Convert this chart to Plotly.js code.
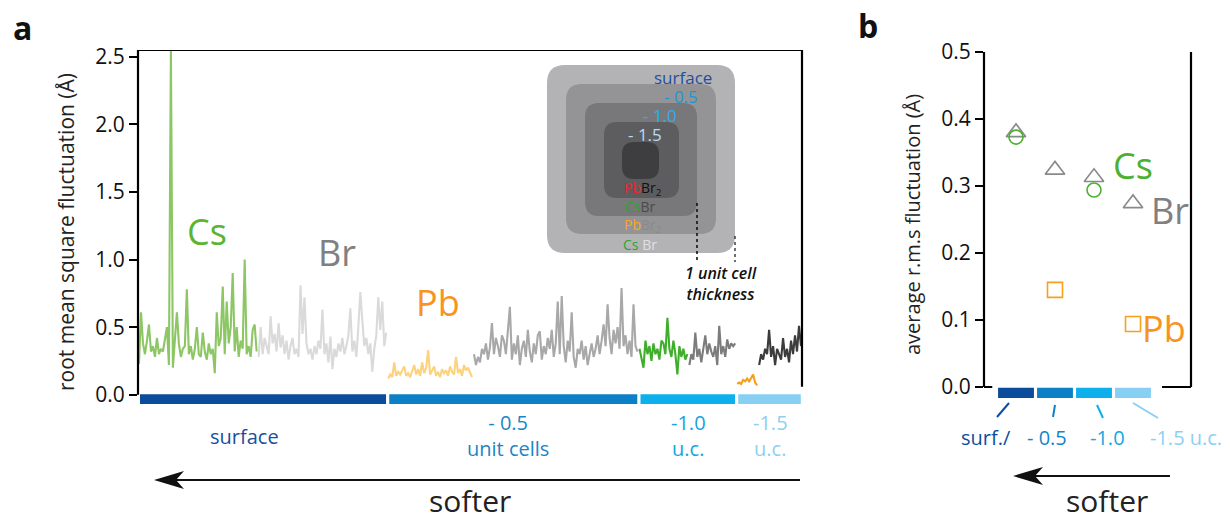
<!DOCTYPE html>
<html>
<head>
<meta charset="utf-8">
<script src="https://cdn.plot.ly/plotly-3.0.1.min.js"></script>
<style>html,body{margin:0;padding:0;background:#fff;}#chart{width:1230px;height:520px;}</style>
</head>
<body>
<div id="chart"></div>
<script>
// ---------------- DATA ----------------
// panel a: r.m.s. fluctuation per atom, grouped by layer (surface -> -1.5 unit cells)
const csSurface = [0.23,0.61,0.38,0.30,0.40,0.52,0.32,0.36,0.28,0.42,0.30,0.34,0.32,0.40,0.50,0.22,2.55,0.20,0.45,0.61,
  0.38,0.28,0.34,0.36,0.78,0.30,0.36,0.26,0.34,0.50,0.30,0.28,0.46,0.32,0.26,0.38,0.30,0.34,0.16,0.61,
  0.36,0.42,0.80,0.30,0.69,0.38,0.50,0.90,0.32,0.50,0.28,0.40,0.34,1.00,0.30,0.36,0.28,0.48,0.52,0.32];
const brSurface = [0.28,0.50,0.30,0.42,0.36,0.30,0.58,0.38,0.45,0.32,0.53,0.35,0.44,0.30,0.40,0.26,0.36,0.42,0.30,0.34,
  0.28,0.81,0.45,0.72,0.38,0.30,0.34,0.26,0.36,0.30,0.40,0.34,0.63,0.30,0.38,0.24,0.43,0.19,0.34,0.28,
  0.38,0.32,0.42,0.30,0.36,0.44,0.64,0.32,0.40,0.28,0.50,0.76,0.55,0.36,0.42,0.30,0.38,0.17,0.34,0.44,
  0.72,0.48,0.69,0.36,0.46];
const pbHalf = [0.12,0.15,0.13,0.24,0.14,0.17,0.15,0.18,0.21,0.14,0.16,0.13,0.17,0.22,0.15,0.19,0.14,0.24,0.16,0.20,
  0.33,0.15,0.18,0.21,0.14,0.17,0.13,0.19,0.16,0.18,0.14,0.21,0.17,0.15,0.28,0.16,0.19,0.14,0.22,0.18,
  0.20,0.16,0.13];
const brHalf = [0.30,0.22,0.28,0.24,0.34,0.30,0.38,0.26,0.35,0.53,0.30,0.42,0.36,0.28,0.44,0.40,0.30,0.46,0.65,0.26,
  0.38,0.30,0.44,0.22,0.34,0.40,0.28,0.48,0.32,0.24,0.38,0.30,0.44,0.47,0.26,0.36,0.30,0.42,0.34,0.48,
  0.28,0.38,0.69,0.30,0.73,0.36,0.24,0.40,0.32,0.61,0.28,0.20,0.34,0.30,0.40,0.26,0.36,0.22,0.30,0.38,
  0.28,0.34,0.44,0.30,0.40,0.52,0.36,0.67,0.42,0.30,0.48,0.38,0.50,0.34,0.79,0.36,0.44,0.30,0.40,0.28,
  0.67,0.36,0.32];
const csOne = [0.34,0.28,0.20,0.40,0.30,0.36,0.25,0.38,0.30,0.34,0.26,0.40,0.38,0.30,0.57,0.34,0.28,0.40,0.30,0.15,
  0.36,0.28,0.34,0.26,0.30];
const brOne = [0.22,0.30,0.26,0.46,0.28,0.34,0.24,0.36,0.44,0.30,0.38,0.32,0.28,0.36,0.22,0.51,0.30,0.36,0.28,0.41,
  0.34,0.38,0.36,0.38];
const pbOneHalf = [0.08,0.09,0.08,0.11,0.10,0.12,0.10,0.13,0.15,0.09,0.07];
const brOneHalf = [0.22,0.30,0.26,0.34,0.30,0.48,0.28,0.36,0.22,0.34,0.30,0.26,0.42,0.28,0.34,0.24,0.40,0.30,0.44,0.32,
  0.51,0.36];

// panel b: averages per layer
const layersB = ['surf.', '-0.5', '-1.0', '-1.5'];
const brAvg = [0.380, 0.324, 0.313, 0.274];
const csAvg = [0.373, null, 0.294, null];
const pbAvg = [null, 0.145, null, 0.094];

// ---------------- STYLE / LAYOUT ----------------
const W = 1230, H = 520;
const FONT = 'Open Sans, sans-serif';
const P = x => x / W, Q = y => 1 - y / H;

const segments = [
  {y: csSurface, color: '#8cc665', layer: 0},
  {y: brSurface, color: '#dadada', layer: 0},
  {y: pbHalf, color: '#fdd27d', layer: 1},
  {y: brHalf, color: '#a8a8a8', layer: 1},
  {y: csOne, color: '#3fae2a', layer: 2},
  {y: brOne, color: '#7c7c7c', layer: 2},
  {y: pbOneHalf, color: '#f6a01a', layer: 3},
  {y: brOneHalf, color: '#3c3c3c', layer: 3}
];
const layerColors = ['#0b4c9b', '#0b80c6', '#0db0ea', '#88d0f3'];

const traces = [];
let idx = 0;
const layerSpan = [[Infinity, -Infinity], [Infinity, -Infinity], [Infinity, -Infinity], [Infinity, -Infinity]];
segments.forEach(s => {
  const xs = s.y.map((_, i) => idx + i);
  layerSpan[s.layer][0] = Math.min(layerSpan[s.layer][0], idx);
  layerSpan[s.layer][1] = Math.max(layerSpan[s.layer][1], idx + s.y.length - 1);
  traces.push({x: xs, y: s.y, type: 'scatter', mode: 'lines', xaxis: 'x', yaxis: 'y',
    line: {color: s.color, width: 2.1}, hoverinfo: 'skip', showlegend: false});
  idx += s.y.length;
});
const nTotal = idx;

traces.push({x: layersB, y: brAvg, type: 'scatter', mode: 'markers', xaxis: 'x2', yaxis: 'y2',
  marker: {symbol: 'triangle-up-open', size: 17, color: '#8a8a8a', line: {width: 1.6}}, showlegend: false});
traces.push({x: layersB, y: csAvg, type: 'scatter', mode: 'markers', xaxis: 'x2', yaxis: 'y2',
  marker: {symbol: 'circle-open', size: 14, color: '#4cb030', line: {width: 1.6}}, showlegend: false});
traces.push({x: layersB, y: pbAvg, type: 'scatter', mode: 'markers', xaxis: 'x2', yaxis: 'y2',
  marker: {symbol: 'square-open', size: 15, color: '#f7a11a', line: {width: 1.6}}, showlegend: false});

const shapes = [];
// panel a frame
const blk = {color: '#000', width: 2.2};
shapes.push({type: 'line', xref: 'x domain', yref: 'y', x0: 0, x1: 0, y0: 0, y1: 2.55, line: blk});
shapes.push({type: 'line', xref: 'x domain', yref: 'y', x0: 0, x1: 1, y0: 2.55, y1: 2.55, line: blk});
shapes.push({type: 'line', xref: 'x domain', yref: 'y', x0: 1, x1: 1, y0: 0.06, y1: 2.55, line: blk});
// panel a layer bars
layerSpan.forEach((sp, i) => {
  shapes.push({type: 'rect', xref: 'x', yref: 'y', x0: sp[0] - 0.5 + 1, x1: sp[1] + 0.5 - 0.6,
    y0: -0.068, y1: 0.004, fillcolor: layerColors[i], line: {width: 0}});
});
// panel b frame
shapes.push({type: 'line', xref: 'x2 domain', yref: 'y2', x0: 0, x1: 0, y0: 0, y1: 0.5, line: blk});
shapes.push({type: 'line', xref: 'x2 domain', yref: 'y2', x0: 1, x1: 1, y0: 0, y1: 0.5, line: blk});
shapes.push({type: 'line', xref: 'x2 domain', yref: 'y2', x0: 0.86, x1: 1, y0: 0, y1: 0, line: blk});
shapes.push({type: 'line', xref: 'x2 domain', yref: 'y2', x0: 0, x1: 0.04, y0: 0, y1: 0, line: blk});
// panel b layer bars
layersB.forEach((c, i) => {
  shapes.push({type: 'rect', xref: 'x2', yref: 'y2', x0: i - 0.46, x1: i + 0.46,
    y0: -0.0165, y1: -0.0012, fillcolor: layerColors[i], line: {width: 0}});
});
// panel b connector ticks
const connectors = [[1009,403,997,417],[1055,405,1053,417],[1097,405,1103,418],[1133,403,1158,418]];
connectors.forEach((c, i) => {
  shapes.push({type: 'line', xref: 'paper', yref: 'paper', x0: P(c[0]), y0: Q(c[1]), x1: P(c[2]), y1: Q(c[3]),
    line: {color: layerColors[i], width: 2}});
});
// paths in pixel coords -> paper
function pathPx(cmds) {
  return cmds.map(p => {
    const c = p[0]; const v = p.slice(1);
    const out = [];
    for (let k = 0; k < v.length; k += 2) out.push(P(v[k]).toFixed(5) + ',' + Q(v[k + 1]).toFixed(5));
    return c + out.join(' ');
  }).join(' ') + ' Z';
}
function rr(x0, y0, x1, y1, r) {
  return pathPx([
    ['M', x0 + r, y0], ['L', x1 - r, y0], ['Q', x1, y0, x1, y0 + r], ['L', x1, y1 - r],
    ['Q', x1, y1, x1 - r, y1], ['L', x0 + r, y1], ['Q', x0, y1, x0, y1 - r], ['L', x0, y0 + r],
    ['Q', x0, y0, x0 + r, y0]]);
}
// "softer" arrows (line + stealth head)
function arrow(xTail, xHead, y) {
  shapes.push({type: 'line', xref: 'paper', yref: 'paper', x0: P(xTail), x1: P(xHead + 18), y0: Q(y), y1: Q(y),
    line: {color: '#111', width: 2.2}});
  shapes.push({type: 'path', xref: 'paper', yref: 'paper', fillcolor: '#111', line: {width: 0},
    path: pathPx([['M', xHead, y], ['L', xHead + 30, y - 9], ['L', xHead + 22, y], ['L', xHead + 30, y + 9]])});
}
arrow(800, 154, 480);
arrow(1170, 1013, 476);

const insetBoxes = [
  [547, 65, 735, 253, 18, '#b3b3b5'],
  [566, 84, 716, 234, 16, '#949496'],
  [585, 103, 697, 216, 14, '#78787a'],
  [604, 122, 679, 198, 13, '#5d5d5f'],
  [622, 142, 659, 179, 12, '#3e3e40']
];
insetBoxes.forEach(b => {
  shapes.push({type: 'path', xref: 'paper', yref: 'paper', path: rr(b[0], b[1], b[2], b[3], b[4]),
    fillcolor: b[5], line: {width: 0}, layer: 'above'});
});
shapes.push({type: 'line', xref: 'paper', yref: 'paper', x0: P(697), x1: P(697), y0: Q(203), y1: Q(262),
  line: {color: '#111', width: 1.6, dash: '3px,3px'}});
shapes.push({type: 'line', xref: 'paper', yref: 'paper', x0: P(735), x1: P(735), y0: Q(236), y1: Q(262),
  line: {color: '#111', width: 1.2, dash: '3px,3px'}});

function ann(text, x, y, size, color, extra) {
  return Object.assign({text: text, x: P(x), y: Q(y), xref: 'paper', yref: 'paper', showarrow: false,
    xanchor: 'center', yanchor: 'middle', borderpad: 0, font: {family: FONT, size: size, color: color}}, extra || {});
}
const annotations = [
  ann('<b>a</b>', 22, 27, 32, '#111'),
  ann('<b>b</b>', 868, 25, 32, '#111'),
  ann('root mean square fluctuation (Å)', 66, 232, 21, '#222', {textangle: -90}),
  ann('average r.m.s fluctuation (Å)', 912, 225, 20, '#222', {textangle: -90}),
  ann('Cs', 207, 231, 36, '#5cb531'),
  ann('Br', 337, 252, 36, '#808080'),
  ann('Pb', 438, 302, 36, '#f7941d'),
  ann('Cs', 1133, 165, 36, '#4cb030'),
  ann('Br', 1170, 210, 36, '#808080'),
  ann('Pb', 1164, 328, 36, '#f7941d'),
  // inset text
  ann('surface', 683, 77, 17, '#1f4e9c'),
  ann('- 0.5', 681, 96, 17, '#1b96d6'),
  ann('- 1.0', 660, 115, 17, '#2aaee8'),
  ann('- 1.5', 645, 134, 17, '#b5def5'),
  ann('<span style="color:#e8262a">Pb</span><span style="color:#111">Br<sub>2</sub></span>', 643, 188, 14, '#111'),
  ann('<span style="color:#2aa532">Cs</span><span style="color:#4a4a4a">Br</span>', 640, 207, 14, '#111'),
  ann('<span style="color:#f8a81c">Pb</span><span style="color:#8a8a8a">Br<sub>2</sub></span>', 643, 225, 14, '#111'),
  ann('<span style="color:#2aa532">Cs</span><span style="color:#e0e0e0"> Br</span>', 640, 244, 14, '#111'),
  ann('<i>1 unit cell</i><br><i>thickness</i>', 721, 283, 16, '#111', {font: {family: FONT, size: 16, color: '#111', weight: 600}}),
  // layer labels a
  ann('surface', 244, 436, 20, '#1a4f9c'),
  ann('- 0.5<br>unit cells', 508, 435, 20, '#1a86c8'),
  ann('-1.0<br>u.c.', 688, 435, 20, '#13a5e0'),
  ann('-1.5<br>u.c.', 770, 435, 20, '#8fcff0'),
  // layer labels b
  ann('surf./', 986, 437, 20, '#0d4f9e'),
  ann('- 0.5', 1047, 437, 20, '#1585c7'),
  ann('-1.0', 1107, 437, 20, '#14a8e0'),
  ann('-1.5 u.c.', 1186, 437, 20, '#8dd0f2'),
  // softer
  ann('softer', 470, 500, 30, '#222'),
  ann('softer', 1107, 500, 30, '#222')
];

const yTicksA = [0, 0.5, 1.0, 1.5, 2.0, 2.5];
const yTicksB = [0, 0.1, 0.2, 0.3, 0.4, 0.5];
const axisY = (domain, range, vals) => ({domain: domain, range: range, tickvals: vals, tickformat: '.1f',
  ticks: 'outside', ticklen: 8, tickwidth: 2, tickcolor: '#000', showline: false, showgrid: false,
  zeroline: false, tickfont: {family: FONT, size: 21, color: '#111'}, fixedrange: true});
const hiddenX = (domain, range) => ({domain: domain, range: range, showline: false, showgrid: false,
  zeroline: false, showticklabels: false, ticks: '', fixedrange: true});

const layout = {
  width: W, height: H, margin: {l: 0, r: 0, t: 0, b: 0}, paper_bgcolor: '#fff', plot_bgcolor: 'rgba(0,0,0,0)',
  showlegend: false,
  xaxis: Object.assign(hiddenX([P(138), P(802)], [-0.5, nTotal - 0.5]), {anchor: 'y'}),
  yaxis: Object.assign(axisY([Q(405.6), Q(50)], [-0.08, 2.55], yTicksA), {anchor: 'x'}),
  xaxis2: Object.assign(hiddenX([P(984), P(1191)], [-0.8205, 4.487]), {type: 'category', anchor: 'y2'}),
  yaxis2: Object.assign(axisY([Q(400.4), Q(52)], [-0.02, 0.5], yTicksB), {anchor: 'x2'}),
  shapes: shapes,
  annotations: annotations
};

Plotly.newPlot('chart', traces, layout, {staticPlot: true, displayModeBar: false});
</script>
</body>
</html>
